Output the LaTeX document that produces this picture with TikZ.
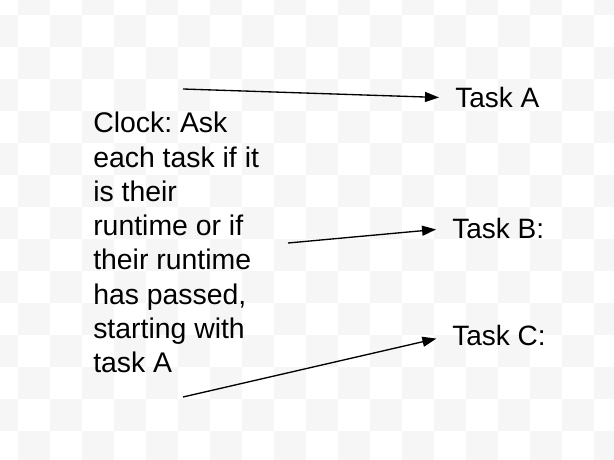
\documentclass[tikz,border=0pt]{standalone}
\usepackage{fontspec}
\setmainfont{Liberation Sans}
\frenchspacing
\usetikzlibrary{arrows.meta}
\definecolor{checkgray}{RGB}{246,246,246}
\tikzset{
  tasklabel/.style={anchor=base west,inner sep=0pt,font=\fontsize{21}{25.7}\selectfont},
  pointer/.style={line width=1pt,-{Triangle[length=10.5pt,width=7.5pt]},shorten >=12pt},
}
\begin{document}
\begin{tikzpicture}[x=0.75pt,y=0.75pt,yscale=-1,xscale=1]
\useasboundingbox (0,0) rectangle (614,460);

%Checkered background
\begin{scope}
\clip (0,0) rectangle (614,460);
\foreach \i in {0,...,19}
  \foreach \j in {0,...,15}
    {\pgfmathparse{int(mod(\i+\j,2))}
     \ifnum\pgfmathresult=1
       \fill[checkgray] ({-14+32*\i},{-17+32*\j}) rectangle ++(32,32);
     \fi}
\end{scope}

% Text Node
\draw (93,112) node (clock) [anchor=north west,inner sep=0pt,align=left,font=\fontsize{21.3}{25.7}\selectfont] {Clock: Ask\\each task if it\\is their\\runtime or if\\their runtime\\has passed,\\starting with\\task A};
% Text Node
\draw (455,108) node (taskA) [tasklabel] {Task A};
% Text Node
\draw (452,238) node (taskB) [tasklabel] {Task B:};
% Text Node
\draw (452,345) node (taskC) [tasklabel] {Task C:};

%Arrow start points
\coordinate (fromA) at (183,89);
\coordinate (fromB) at (288,243);
\coordinate (fromC) at (183,397);

%Straight Lines
\draw [pointer] (fromA) -- (taskA.west);
%Straight Lines
\draw [pointer] (fromB) -- (taskB.west);
%Straight Lines
\draw [pointer] (fromC) -- (taskC.west);

\end{tikzpicture}
\end{document}
